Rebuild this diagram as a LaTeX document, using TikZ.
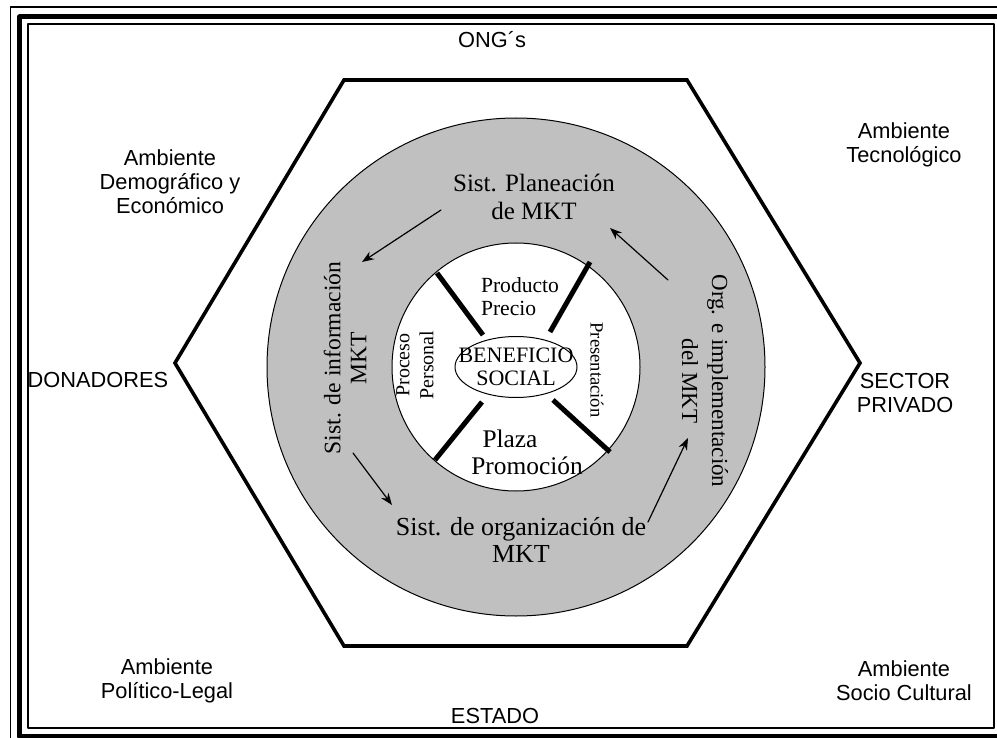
\documentclass[tikz,border=0pt]{standalone}
\usepackage{fontspec}
\setmainfont{Liberation Serif}
\newfontfamily\arialfont{Liberation Sans}
\usetikzlibrary{arrows.meta}
\definecolor{ringgray}{RGB}{192,192,192}

\begin{document}
\begin{tikzpicture}[x=0.5pt, y=-0.5pt, line join=round, line cap=round, >={Stealth[length=6pt,width=4.5pt]},
    envtxt/.style={font=\arialfont\fontsize{10.9}{12}\selectfont, align=center, inner sep=0pt},
    ringtxt/.style={align=center, inner sep=0pt},
    spoke/.style={line width=2.5pt, line cap=butt},
    flow/.style={->, line width=0.6pt}]
    \useasboundingbox (0,0) rectangle (997,738);
    % marco doble
    \begin{scope}
        \clip (0,0) rectangle (997,738);
        \draw[line width=0.8pt] (10.5,7) rectangle (1012,752);
        \draw[line width=2.5pt] (19.5,17) rectangle (1003,736);
        \draw[line width=0.9pt] (28,24) rectangle (994,728);
    \end{scope}
    % hexagono y anillos
    \draw[line width=1.8pt, line join=miter] (175,363)--(344,80)--(687,80)--(860,363)--(687,646)--(344,646)--cycle;
    \draw[fill=ringgray, line width=0.5pt] (516,367) circle (249);
    \draw[fill=white, line width=0.5pt] (516,367) circle (124);
    \draw[spoke] (437,273)--(483,335);
    \draw[spoke] (590,262)--(550,332);
    \draw[spoke] (482,402)--(435,460);
    \draw[spoke] (553,400)--(610,452);
    \draw[fill=white, line width=0.5pt] (516,367) ellipse [x radius=61, y radius=30.5];
    % entorno
    \node[envtxt] (ong) at (492,40) {ONG´s};
    \node[envtxt] (estado) at (495,716) {ESTADO};
    \node[envtxt] (donad) at (98,380) {DONADORES};
    \node[envtxt] (privado) at (905,393) {SECTOR\\PRIVADO};
    \node[envtxt] (demog) at (170,182) {Ambiente\\Demográfico y\\Económico};
    \node[envtxt] (tecno) at (904,145) {Ambiente\\Tecnológico};
    \node[envtxt] (polit) at (167,681) {Ambiente\\Político-Legal};
    \node[envtxt] (socio) at (904,681) {Ambiente\\Socio Cultural};
    % sistemas
    \node[ringtxt, font=\fontsize{12.5}{14}\selectfont] (plan) at (534,197) {Sist. Planeación\\de MKT};
    \node[ringtxt, font=\fontsize{11.8}{13}\selectfont, rotate=90] (info) at (345,358) {Sist. de información\\MKT};
    \node[ringtxt, font=\fontsize{13}{13.5}\selectfont] (orgz) at (521,540) {Sist. de organización de\\MKT};
    \node[ringtxt, font=\fontsize{11.5}{15}\selectfont, rotate=-90] (impl) at (705,381) {Org. e implementación\\del MKT};
    % mezcla
    \node[ringtxt, align=left, font=\fontsize{10.8}{11.5}\selectfont] (prod) at (520,297) {Producto\\Precio};
    \node[ringtxt, font=\fontsize{12.7}{13.5}\selectfont] (plaza) at (527,452) {Plaza\hspace*{17pt}\\Promoción};
    \node[ringtxt, font=\fontsize{10}{12}\selectfont, rotate=90] (proc) at (415,365) {Proceso\\Personal};
    \node[ringtxt, font=\fontsize{9.3}{11}\selectfont, rotate=-90] (pres) at (597,370) {Presentación};
    \node[ringtxt, font=\fontsize{11}{11.7}\selectfont] (benef) at (516,367) {BENEFICIO\\SOCIAL};
    % flechas del ciclo
    \coordinate (f1a) at (441,210); \coordinate (f1b) at (362,262);
    \coordinate (f2a) at (353,453); \coordinate (f2b) at (392,505);
    \coordinate (f3a) at (648,522); \coordinate (f3b) at (688,438);
    \coordinate (f4a) at (668,280); \coordinate (f4b) at (610,228);
    \draw[flow] (f1a)--(f1b);
    \draw[flow] (f2a)--(f2b);
    \draw[flow] (f3a)--(f3b);
    \draw[flow] (f4a)--(f4b);
\end{tikzpicture}
\end{document}
